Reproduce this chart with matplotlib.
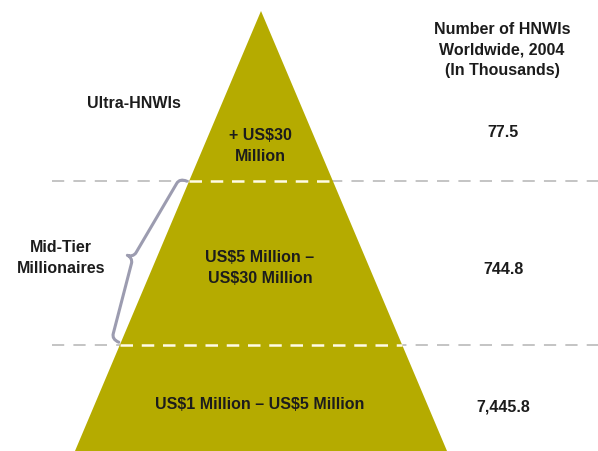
import matplotlib
matplotlib.use("Agg")
import matplotlib.pyplot as plt
import numpy as np
from matplotlib.patches import Polygon, PathPatch
from matplotlib.path import Path

# data
tier_labels = ["+ US$30\nMillion", "US$5 Million –\nUS$30 Million", "US$1 Million – US$5 Million"]
tier_counts = [77.5, 744.8, 7445.8]
group_labels = ["Ultra-HNWIs", "Mid-Tier\nMillionaires"]
header = "Number of HNWIs\nWorldwide, 2004\n(In Thousands)"

# layout (pixel-like coords, y down)
W, H = 598, 452
apex = (261, 12)
base_y = 452
half_base = 186
cuts = [182, 346]
label_y = [146, 268, 405]
count_y = [133, 270, 407]
group_pos = [(134, 103), (61, 258)]

olive = "#b5ab00"
txt = "#1c1c1c"
font = ["Liberation Sans", "DejaVu Sans"]

def edge_x(y, side):
    return apex[0] + side * half_base * (y - apex[1]) / (base_y - apex[1])

fig = plt.figure(figsize=(5.98, 4.52), dpi=100)
ax = fig.add_axes([0, 0, 1, 1])
ax.set_xlim(0, W)
ax.set_ylim(H, 0)
ax.axis("off")

# grey dashed separators behind the pyramid
for y in cuts:
    ax.plot([52, W], [y, y], color="#b4b4b4", lw=1.1, dashes=(8, 6), zorder=1)

tri = Polygon([apex, (edge_x(base_y, -1), base_y), (edge_x(base_y, 1), base_y)],
              closed=True, facecolor=olive, edgecolor="none", zorder=2)
ax.add_patch(tri)

# white dashes inside the pyramid
for y in cuts:
    ax.plot([edge_x(y, -1), edge_x(y, 1)], [y, y], color="#fffbe6", lw=1.8,
            dashes=(5, 3.5), zorder=3)

# brace along the left edge of the mid tier
y0, y1 = cuts[0] + 1, cuts[1] - 2
p0 = np.array([edge_x(y0, -1), y0])
p1 = np.array([edge_x(y1, -1), y1])
d = (p1 - p0) / np.linalg.norm(p1 - p0)
n = np.array([-d[1], d[0]])
if n[0] > 0:
    n = -n
L = np.linalg.norm(p1 - p0)
m = L / 2 + 4
loc = [(0, 2), (0, 7), (2, 10), (6, 10.5),
       (m - 6, 21), (m - 2, 21.5), (m, 25), (m, 28),
       (m, 25), (m + 2, 21.5), (m + 6, 21),
       (L - 6, 10.5), (L - 2, 10), (L, 7), (L, 2)]
codes = [Path.MOVETO, Path.CURVE4, Path.CURVE4, Path.CURVE4,
         Path.LINETO, Path.CURVE4, Path.CURVE4, Path.CURVE4,
         Path.CURVE4, Path.CURVE4, Path.CURVE4,
         Path.LINETO, Path.CURVE4, Path.CURVE4, Path.CURVE4]
pts = [p0 + u * d + v * n for u, v in loc]
ax.add_patch(PathPatch(Path(pts, codes), facecolor="none", edgecolor="#9c9cb0",
                       lw=2.2, zorder=4, capstyle="round", joinstyle="round"))

tk = dict(fontsize=11.5, fontweight="bold", color=txt, family=font,
          ha="center", va="center", linespacing=1.5, zorder=5, parse_math=False)

for lab, y in zip(tier_labels, label_y):
    ax.text(260, y, lab, **tk)

for v, y in zip(tier_counts, count_y):
    ax.text(503, y, f"{v:,.1f}", **tk)

for lab, (x, y) in zip(group_labels, group_pos):
    ax.text(x, y, lab, **tk)

ax.text(502, 50, header, **tk)

fig.savefig("out.png", dpi=100)
